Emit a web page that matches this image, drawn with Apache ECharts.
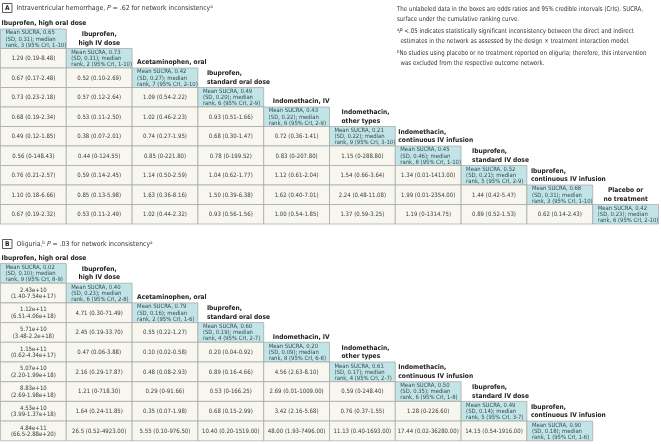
<!DOCTYPE html>
<html><head><meta charset="utf-8">
<script src="https://cdn.jsdelivr.net/npm/echarts@6/dist/echarts.min.js"></script>
<style>html,body{margin:0;padding:0;background:#fff}#c{width:661px;height:444px}</style>
</head><body><div id="c"></div><script>
const FONT = '"Liberation Sans Narrow","DejaVu Sans Condensed","Roboto Condensed","Liberation Sans",sans-serif';

// ---------- Panel A: Intraventricular hemorrhage ----------
const treatmentsA = ['Ibuprofen, high oral dose','Ibuprofen,\nhigh IV dose','Acetaminophen, oral','Ibuprofen,\nstandard oral dose','Indomethacin, IV','Indomethacin,\nother types','Indomethacin,\ncontinuous IV infusion','Ibuprofen,\nstandard IV dose','Ibuprofen,\ncontinuous IV infusion','Placebo or\nno treatment'];
const sucraMeanA = [0.65,0.73,0.42,0.49,0.43,0.21,0.45,0.52,0.68,0.42];
const sucraSdA   = [0.31,0.31,0.27,0.20,0.22,0.22,0.46,0.21,0.31,0.23];
const medRankA   = [3,2,7,6,6,9,8,5,3,6];
const rankCriA   = ['1-10','1-10','2-10','2-9','2-9','3-10','1-10','2-9','1-10','2-10'];
const oddsA = [
  [],
  ['1.29 (0.19-8.48)'],
  ['0.67 (0.17-2.48)','0.52 (0.10-2.69)'],
  ['0.73 (0.23-2.18)','0.57 (0.12-2.64)','1.09 (0.54-2.22)'],
  ['0.68 (0.19-2.34)','0.53 (0.11-2.50)','1.02 (0.46-2.23)','0.93 (0.51-1.66)'],
  ['0.49 (0.12-1.85)','0.38 (0.07-2.01)','0.74 (0.27-1.95)','0.68 (0.30-1.47)','0.72 (0.36-1.41)'],
  ['0.56 (0-148.43)','0.44 (0-124.55)','0.85 (0-221.80)','0.78 (0-199.52)','0.83 (0-207.80)','1.15 (0-288.80)'],
  ['0.76 (0.21-2.57)','0.59 (0.14-2.45)','1.14 (0.50-2.59)','1.04 (0.62-1.77)','1.12 (0.61-2.04)','1.54 (0.66-3.64)','1.34 (0.01-1413.00)'],
  ['1.10 (0.18-6.66)','0.85 (0.13-5.98)','1.63 (0.36-8.16)','1.50 (0.39-6.38)','1.62 (0.40-7.01)','2.24 (0.48-11.08)','1.99 (0.01-2354.00)','1.44 (0.42-5.47)'],
  ['0.67 (0.19-2.32)','0.53 (0.11-2.49)','1.02 (0.44-2.32)','0.93 (0.56-1.56)','1.00 (0.54-1.85)','1.37 (0.59-3.25)','1.19 (0-1314.75)','0.89 (0.52-1.53)','0.62 (0.14-2.43)']
];

// ---------- Panel B: Oliguria ----------
const treatmentsB = ['Ibuprofen, high oral dose','Ibuprofen,\nhigh IV dose','Acetaminophen, oral','Ibuprofen,\nstandard oral dose','Indomethacin, IV','Indomethacin,\nother types','Indomethacin,\ncontinuous IV infusion','Ibuprofen,\nstandard IV dose','Ibuprofen,\ncontinuous IV infusion'];
const sucraMeanB = [0.02,0.40,0.79,0.60,0.20,0.61,0.50,0.49,0.90];
const sucraSdB   = [0.10,0.23,0.16,0.19,0.09,0.17,0.35,0.14,0.18];
const medRankB   = [9,6,2,4,8,4,6,5,1];
const rankCriB   = ['8-9','2-8','1-6','2-7','6-8','2-7','1-8','3-7','1-6'];
const oddsB = [
  [],
  ['2.43e+10 (1.40-7.54e+17)'],
  ['1.12e+11 (6.51-4.06e+18)','4.71 (0.30-71.49)'],
  ['5.71e+10 (3.48-2.2e+18)','2.45 (0.19-33.70)','0.55 (0.22-1.27)'],
  ['1.15e+11 (0.62-4.34e+17)','0.47 (0.06-3.88)','0.10 (0.02-0.58)','0.20 (0.04-0.92)'],
  ['5.07e+10 (2.20-1.99e+18)','2.16 (0.29-17.87)','0.48 (0.08-2.93)','0.89 (0.16-4.66)','4.56 (2.63-8.10)'],
  ['8.83e+10 (2.69-1.98e+18)','1.21 (0-718.30)','0.29 (0-91.66)','0.53 (0-166.25)','2.69 (0.01-1009.00)','0.59 (0-248.40)'],
  ['4.53e+10 (3.99-1.37e+18)','1.64 (0.24-11.85)','0.35 (0.07-1.98)','0.68 (0.15-2.99)','3.42 (2.16-5.68)','0.76 (0.37-1.55)','1.28 (0-226.60)'],
  ['4.84e+11 (66.5-2.88e+20)','26.5 (0.52-4923.00)','5.55 (0.10-976.50)','10.40 (0.20-1519.00)','48.00 (1.93-7496.00)','11.13 (0.40-1693.00)','17.44 (0.02-36280.00)','14.15 (0.54-1916.00)']
];

const noteLines = [
  'The unlabeled data in the boxes are odds ratios and 95% credible intervals (CrIs). SUCRA,',
  'surface under the cumulative ranking curve.',
  ' <.05 indicates statistically significant inconsistency between the direct and indirect',
  '  estimates in the network as assessed by the design × treatment interaction model.',
  'No studies using placebo or no treatment reported on oliguria; therefore, this intervention',
  '  was excluded from the respective outcome network.'
];

// ---------- styling (per column label placement) ----------
const labelPlace = [
  {align:'left', dx:1},{align:'center', dx:0},{align:'left', dx:5},{align:'left', dx:9},{align:'left', dx:9},
  {align:'left', dx:12},{align:'left', dx:3},{align:'left', dx:11},{align:'left', dx:4},{align:'center', dx:0}
];
const TEAL = '#c3e4e6', CREAM = '#f7f7ef', BORDER = '#a4a4a4', TXT = '#3a3a3a';

function buildCells(names, mean, sd, rank, cri, odds){
  const cells = [];
  for (let i = 0; i < names.length; i++){
    for (let j = 0; j <= i; j++){
      if (i === j){
        cells.push({value:[j, i], diag:true, label:names[j],
          text:'Mean SUCRA, ' + mean[i].toFixed(2) + '\n(SD, ' + sd[i].toFixed(2) + '); median\nrank, ' + rank[i] + ' (95% CrI, ' + cri[i] + ')'});
      } else {
        let t = odds[i][j];
        if (/e\+/.test(t)) t = t.replace(' ', '\n');
        cells.push({value:[j, i], diag:false, text:t});
      }
    }
  }
  return cells;
}
const cellsA = buildCells(treatmentsA, sucraMeanA, sucraSdA, medRankA, rankCriA, oddsA);
const cellsB = buildCells(treatmentsB, sucraMeanB, sucraSdB, medRankB, rankCriB, oddsB);

function makeRender(cells){
  return function(params, api){
    const cell = cells[params.dataIndex];
    const p = api.coord([api.value(0), api.value(1)]);
    const s = api.size([1, 1]);
    const x0 = p[0] - s[0] / 2, y0 = p[1] - s[1] / 2;
    const ch = [{type:'rect', shape:{x:x0, y:y0, width:s[0], height:s[1]},
      style:{fill: cell.diag ? TEAL : CREAM, stroke: BORDER, lineWidth: 0.7}}];
    if (cell.diag){
      ch.push({type:'text', style:{text:cell.text, x:x0 + 5, y:p[1] + 0.3, align:'left', verticalAlign:'middle',
        font:'5.9px ' + FONT, lineHeight:6.1, fill:'#2f4f55'}});
      const lp = labelPlace[api.value(0)];
      ch.push({type:'text', style:{text:cell.label, x: lp.align === 'center' ? p[0] : x0 + lp.dx, y:y0 - 1.2,
        align:lp.align, verticalAlign:'bottom', font:'bold 6.6px ' + FONT, lineHeight:8.6, fill:'#222'}});
    } else {
      ch.push({type:'text', style:{text:cell.text, x:p[0], y:p[1] + 0.3, align:'center', verticalAlign:'middle',
        font:'6px ' + FONT, lineHeight:6.6, fill:TXT}});
    }
    return {type:'group', children:ch};
  };
}

function catIdx(n){ return Array.from({length:n}, (_, k) => String(k)); }

// horizontal compression so the note block spans the same width as the original
const NOTE_PX = 6.6;
const mctx = document.createElement('canvas').getContext('2d');
mctx.font = NOTE_PX + 'px ' + FONT;
const noteScale = Math.min(1, 246 / mctx.measureText(noteLines[0]).width);

const titleRich = {
  t:{font:'6.8px ' + FONT, fill:'#333'},
  i:{font:'italic 6.8px ' + FONT, fill:'#333'},
  s:{font:'4.6px ' + FONT, fill:'#333', padding:[0,0,3,0]}
};
const noteRich = {
  t:{font:NOTE_PX + 'px ' + FONT, fill:'#333', lineHeight:10.3},
  i:{font:'italic ' + NOTE_PX + 'px ' + FONT, fill:'#333', lineHeight:10.3},
  s:{font:'4.6px ' + FONT, fill:'#333', lineHeight:10.3, padding:[0,0,3,0]}
};
function note(text, y){
  return {type:'text', x:397, y:y, scaleX:noteScale, style:{text:text, x:0, y:0, verticalAlign:'top', rich:noteRich}};
}

const chart = echarts.init(document.getElementById('c'), null, {renderer:'canvas'});
chart.setOption({
  animation:false,
  backgroundColor:'#fff',
  grid:[
    {left:0.5, top:29, width:658, height:195},
    {left:0.5, top:263.5, width:592.2, height:177.3}
  ],
  xAxis:[
    {type:'category', gridIndex:0, data:catIdx(treatmentsA.length), show:false},
    {type:'category', gridIndex:1, data:catIdx(treatmentsB.length), show:false}
  ],
  yAxis:[
    {type:'category', gridIndex:0, data:catIdx(treatmentsA.length), inverse:true, show:false},
    {type:'category', gridIndex:1, data:catIdx(treatmentsB.length), inverse:true, show:false}
  ],
  series:[
    {type:'custom', xAxisIndex:0, yAxisIndex:0, data:cellsA.map(c => c.value), renderItem:makeRender(cellsA), silent:true},
    {type:'custom', xAxisIndex:1, yAxisIndex:1, data:cellsB.map(c => c.value), renderItem:makeRender(cellsB), silent:true}
  ],
  graphic:[
    {type:'rect', shape:{x:2.5, y:3.5, width:9.5, height:9}, style:{fill:'#fff', stroke:'#333', lineWidth:0.8}},
    {type:'text', style:{text:'A', x:7.25, y:8.2, align:'center', verticalAlign:'middle', font:'bold 6.6px ' + FONT, fill:'#222'}},
    {type:'text', style:{text:'{t|Intraventricular hemorrhage, }{i|P}{t| = .62 for network inconsistency}{s|a}', x:16.5, y:8.2,
      verticalAlign:'middle', rich:titleRich}},
    {type:'rect', shape:{x:2.5, y:239.5, width:9.5, height:9}, style:{fill:'#fff', stroke:'#333', lineWidth:0.8}},
    {type:'text', style:{text:'B', x:7.25, y:244.2, align:'center', verticalAlign:'middle', font:'bold 6.6px ' + FONT, fill:'#222'}},
    {type:'text', style:{text:'{t|Oliguria,}{s|b}{t| }{i|P}{t| = .03 for network inconsistency}{s|a}', x:16.5, y:244.2,
      verticalAlign:'middle', rich:titleRich}},
    note('{t|' + noteLines[0] + '}\n{t|' + noteLines[1] + '}', 4),
    note('{s|a}{i|P}{t|' + noteLines[2] + '}\n{t|' + noteLines[3] + '}', 26),
    note('{s|b}{t|' + noteLines[4] + '}\n{t|' + noteLines[5] + '}', 48)
  ]
});
</script></body></html>
